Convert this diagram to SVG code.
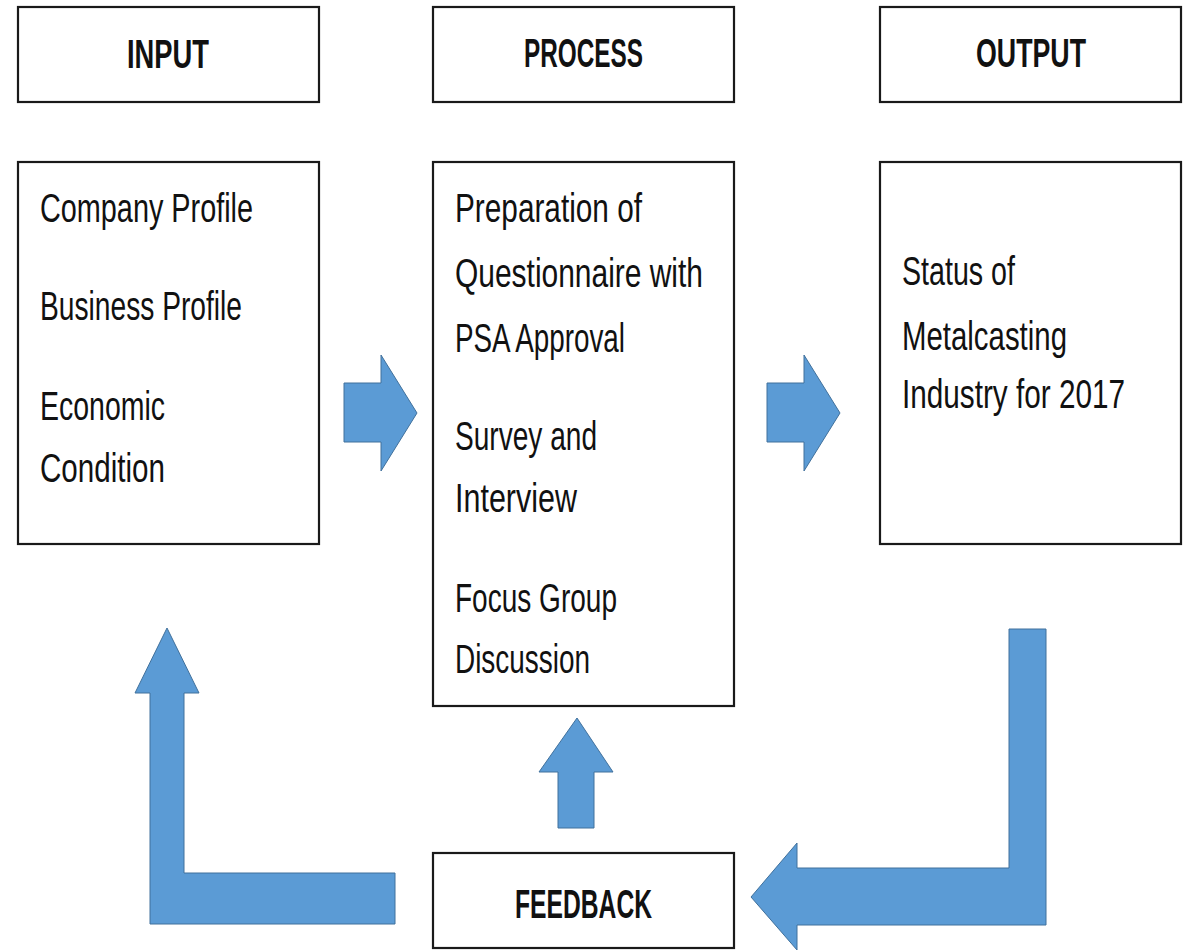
<svg xmlns="http://www.w3.org/2000/svg" width="1185" height="950" viewBox="0 0 1185 950">
<style>
.box{fill:#fff;stroke:#1a1a1a;stroke-width:2.2}
.arrow{fill:#5B9BD5;stroke:#41719C;stroke-width:1}
.h{font-family:"Liberation Sans",Arial,sans-serif;font-weight:bold;font-size:40px;fill:#111}
.t{font-family:"Liberation Sans",Arial,sans-serif;font-size:40px;fill:#111}
</style>
<rect width="1185" height="950" fill="#fff"/>
<g id="input-title"><rect class="box" x="18" y="7" width="301" height="95"/><text class="h" x="127" y="68" textLength="82" lengthAdjust="spacingAndGlyphs">INPUT</text></g>
<g id="process-title"><rect class="box" x="433" y="7" width="301" height="95"/><text class="h" x="524" y="67" textLength="119" lengthAdjust="spacingAndGlyphs">PROCESS</text></g>
<g id="output-title"><rect class="box" x="880" y="7" width="301" height="95"/><text class="h" x="976" y="67" textLength="110" lengthAdjust="spacingAndGlyphs">OUTPUT</text></g>
<g id="input"><rect class="box" x="18" y="162" width="301" height="382"/>
<text class="t" x="40" y="222" textLength="213" lengthAdjust="spacingAndGlyphs">Company Profile</text>
<text class="t" x="40" y="320" textLength="202" lengthAdjust="spacingAndGlyphs">Business Profile</text>
<text class="t" x="40" y="420" textLength="125" lengthAdjust="spacingAndGlyphs">Economic</text>
<text class="t" x="40" y="482" textLength="125" lengthAdjust="spacingAndGlyphs">Condition</text>
</g>
<g id="process"><rect class="box" x="433" y="162" width="301" height="544"/>
<text class="t" x="455" y="222" textLength="187" lengthAdjust="spacingAndGlyphs">Preparation of</text>
<text class="t" x="455" y="287" textLength="248" lengthAdjust="spacingAndGlyphs">Questionnaire with</text>
<text class="t" x="455" y="352" textLength="170" lengthAdjust="spacingAndGlyphs">PSA Approval</text>
<text class="t" x="455" y="450" textLength="142" lengthAdjust="spacingAndGlyphs">Survey and</text>
<text class="t" x="455" y="512" textLength="122" lengthAdjust="spacingAndGlyphs">Interview</text>
<text class="t" x="455" y="612" textLength="162" lengthAdjust="spacingAndGlyphs">Focus Group</text>
<text class="t" x="455" y="673" textLength="135" lengthAdjust="spacingAndGlyphs">Discussion</text>
</g>
<g id="output"><rect class="box" x="880" y="162" width="301" height="382"/>
<text class="t" x="902" y="285" textLength="113" lengthAdjust="spacingAndGlyphs">Status of</text>
<text class="t" x="902" y="350" textLength="165" lengthAdjust="spacingAndGlyphs">Metalcasting</text>
<text class="t" x="902" y="408" textLength="223" lengthAdjust="spacingAndGlyphs">Industry for 2017</text>
</g>
<g id="feedback"><rect class="box" x="433" y="853" width="301" height="95"/><text class="h" x="515" y="918" textLength="137" lengthAdjust="spacingAndGlyphs">FEEDBACK</text></g>
<g id="connectors">
<polygon class="arrow" points="344,383 381,383 381,355 417,413 381,471 381,442 344,442"/>
<polygon class="arrow" points="767,383 804,383 804,355 840,413 804,471 804,442 767,442"/>
<polygon class="arrow" points="577,718 613,772 594,772 594,828 558,828 558,772 539,772"/>
<polygon class="arrow" points="167,628 199,693 184,693 184,873 395,873 395,924 150,924 150,693 135,693"/>
<polygon class="arrow" points="1009,629 1046,629 1046,925 797,925 797,950 751,897 797,843 797,868 1009,868"/>
</g>
</svg>
